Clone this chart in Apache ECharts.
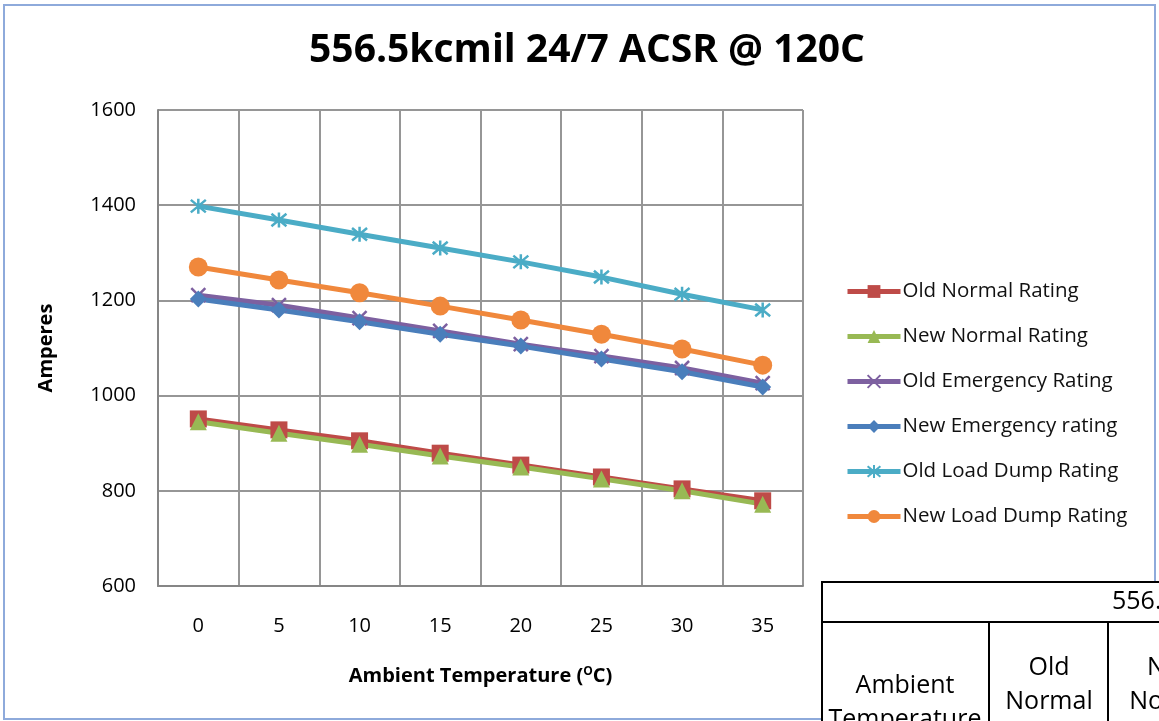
<!DOCTYPE html>
<html><head><meta charset="utf-8">
<script src="https://cdn.jsdelivr.net/npm/echarts@6/dist/echarts.min.js"></script>
<style>html,body{margin:0;padding:0;background:#fff}#c{width:1159px;height:721px}</style>
</head><body><div id="c"></div>
<script>
const categories = ['0','5','10','15','20','25','30','35'];
const oldNormal = [951, 928, 905, 879, 854, 829, 804, 779];
const newNormal = [945, 921, 898, 873, 850, 825, 800, 772];
const oldEmergency = [1211, 1190, 1163, 1136, 1108, 1083, 1058, 1026];
const newEmergency = [1203, 1180, 1155, 1129, 1104, 1077, 1050, 1018];
const oldLoadDump = [1398, 1369, 1339, 1310, 1281, 1249, 1213, 1180];
const newLoadDump = [1270, 1243, 1216, 1188, 1159, 1129, 1098, 1064];
const seriesNames = ['Old Normal Rating','New Normal Rating','Old Emergency Rating','New Emergency rating','Old Load Dump Rating','New Load Dump Rating'];
const FONT = 'Open Sans';

const chart = echarts.init(document.getElementById('c'));
function mk(name, data, color, symbol, size, extra) {
  return Object.assign({
    name, type: 'line', data, symbol, symbolSize: size,
    lineStyle: { color, width: 5 },
    itemStyle: { color, borderColor: color, borderWidth: 0 },
    emphasis: { disabled: true }, animation: false
  }, extra || {});
}
const xPath = 'path://M0,0L10,10M10,0L0,10';
const starPath = 'path://M0,0L10,10M10,0L0,10M5,-1L5,11';
chart.setOption({
  animation: false,
  title: { text: '556.5kcmil 24/7 ACSR @ 120C', left: 582, top: 26, textAlign: 'center',
    textStyle: { fontFamily: FONT, fontWeight: 'bold', fontSize: 39, color: '#000' } },
  grid: { left: 158, right: 356, top: 110, bottom: 135 },
  legend: {
    orient: 'vertical', left: 840, top: 275, itemWidth: 53, itemHeight: 16, itemGap: 22,
    lineStyle: { width: 5 },
    textStyle: { fontFamily: FONT, fontSize: 20.5, color: '#111', lineHeight: 23, padding: [0,0,0,-3] },
    data: seriesNames
  },
  xAxis: {
    type: 'category', data: categories, boundaryGap: true,
    axisLine: { lineStyle: { color: '#868686', width: 2 } },
    axisTick: { show: false },
    axisLabel: { fontFamily: FONT, fontSize: 20, color: '#000', margin: 30 },
    splitLine: { show: true, lineStyle: { color: '#969696', width: 2 } },
    name: '{a|Ambient Temperature (}{s|O}{a|C)}', nameLocation: 'middle', nameGap: 80,
    nameTextStyle: { rich: {
      a: { fontFamily: FONT, fontWeight: 'bold', fontSize: 20, color: '#000' },
      s: { fontFamily: FONT, fontWeight: 'bold', fontSize: 12, color: '#000', verticalAlign: 'top', padding: [0,0,9,0] }
    } }
  },
  yAxis: {
    type: 'value', min: 600, max: 1600, interval: 200,
    axisLine: { show: true, lineStyle: { color: '#868686', width: 2 } },
    axisTick: { show: false },
    axisLabel: { fontFamily: FONT, fontSize: 20, color: '#000', margin: 22, formatter: v => String(v) },
    splitLine: { show: true, lineStyle: { color: '#969696', width: 2 } },
    name: 'Amperes', nameLocation: 'middle', nameGap: 102, nameRotate: 90,
    nameTextStyle: { fontFamily: FONT, fontWeight: 'bold', fontSize: 20, color: '#000' }
  },
  series: [
    mk(seriesNames[0], oldNormal, '#BE4B48', 'rect', 17),
    mk(seriesNames[1], newNormal, '#98B954', 'triangle', 17),
    mk(seriesNames[2], oldEmergency, '#7D60A0', xPath, 14, { itemStyle: { color: 'rgba(0,0,0,0)', borderColor: '#7D60A0', borderWidth: 2.5 } }),
    mk(seriesNames[3], newEmergency, '#4A7EBB', 'diamond', 17),
    mk(seriesNames[4], oldLoadDump, '#4BACC6', starPath, 15, { itemStyle: { color: 'rgba(0,0,0,0)', borderColor: '#4BACC6', borderWidth: 2.5 } }),
    mk(seriesNames[5], newLoadDump, '#F0883C', 'circle', 19)
  ],
  graphic: [
    { type: 'rect', z: -1, shape: { x: 4, y: 5, width: 1151, height: 714 }, style: { fill: 'none', stroke: '#8EAADB', lineWidth: 2 } },
    { type: 'rect', z: 100, shape: { x: 822, y: 582, width: 360, height: 160 }, style: { fill: '#fff', stroke: '#000', lineWidth: 2 } },
    { type: 'line', z: 101, shape: { x1: 822, y1: 622, x2: 1159, y2: 622 }, style: { stroke: '#000', lineWidth: 2 } },
    { type: 'line', z: 101, shape: { x1: 989, y1: 622, x2: 989, y2: 721 }, style: { stroke: '#000', lineWidth: 2 } },
    { type: 'line', z: 101, shape: { x1: 1108, y1: 622, x2: 1108, y2: 721 }, style: { stroke: '#000', lineWidth: 2 } },
    { type: 'text', z: 102, left: 1112, top: 589, style: { text: '556.5kcmil', font: '25px "Open Sans"', fill: '#000' } },
    { type: 'text', z: 102, x: 905, y: 703, style: { text: 'Ambient\nTemperature', font: '25px "Open Sans"', fill: '#000', align: 'center', verticalAlign: 'middle', lineHeight: 34 } },
    { type: 'text', z: 102, x: 1049, y: 685, style: { text: 'Old\nNormal', font: '25px "Open Sans"', fill: '#000', align: 'center', verticalAlign: 'middle', lineHeight: 34 } },
    { type: 'text', z: 102, x: 1173, y: 685, style: { text: 'New\nNormal', font: '25px "Open Sans"', fill: '#000', align: 'center', verticalAlign: 'middle', lineHeight: 34 } }
  ]
});
</script></body></html>
